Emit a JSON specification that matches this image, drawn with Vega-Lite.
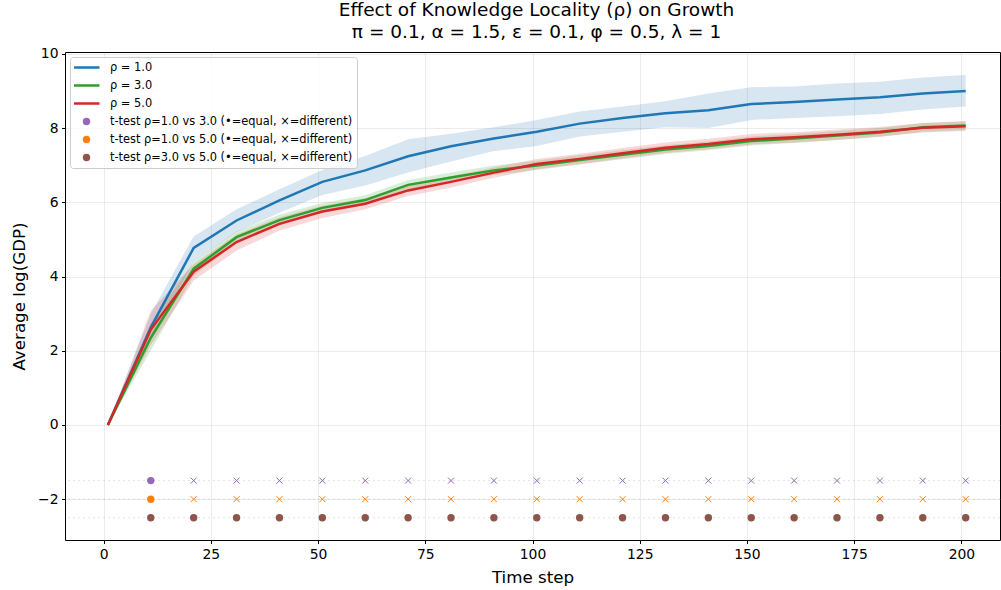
{
  "$schema": "https://vega.github.io/schema/vega-lite/v6.json",
  "autosize": {"type": "none"},
  "padding": {"left": 65, "top": 52, "right": 1, "bottom": 50},
  "width": 935,
  "height": 488,
  "background": "white",
  "title": {
    "text": ["Effect of Knowledge Locality (ρ) on Growth", "π = 0.1,  α = 1.5,  ε = 0.1,  φ = 0.5,  λ = 1"],
    "font": "DejaVu Sans", "fontSize": 18.5, "fontWeight": "normal", "lineHeight": 22,
    "offset": 5, "anchor": "middle", "color": "#000", "dx": 4
  },
  "config": {
    "font": "DejaVu Sans",
    "view": {"stroke": "#000", "strokeWidth": 1},
    "axis": {
      "domain": false, "grid": true, "gridColor": "#b0b0b0", "gridOpacity": 0.3, "gridWidth": 0.8,
      "tickColor": "#000", "tickSize": 3.5, "labelFont": "DejaVu Sans", "labelFontSize": 13.9, "labelColor": "#000",
      "titleFont": "DejaVu Sans", "titleFontSize": 16.7, "titleFontWeight": "normal", "titleColor": "#000", "labelPadding": 3.5
    },
    "legend": {
      "orient": "top-left", "offset": 5, "padding": 4, "strokeColor": "#cccccc", "fillColor": "rgba(255,255,255,0.8)",
      "cornerRadius": 3, "labelFont": "DejaVu Sans", "labelFontSize": 11.4, "labelColor": "#000", "labelLimit": 400,
      "symbolOffset": -2, "labelOffset": 9, "rowPadding": 5, "clipHeight": 13, "symbolOpacity": 1
    }
  },
  "datasets": {
    "lines": [
      {"t": 1, "series": "ρ = 1.0", "mean": 0, "lo": 0, "hi": 0},
      {"t": 11, "series": "ρ = 1.0", "mean": 2.63, "lo": 2.3, "hi": 3.0},
      {"t": 21, "series": "ρ = 1.0", "mean": 4.77, "lo": 4.4, "hi": 5.08},
      {"t": 31, "series": "ρ = 1.0", "mean": 5.51, "lo": 5.2, "hi": 5.81},
      {"t": 41, "series": "ρ = 1.0", "mean": 6.05, "lo": 5.72, "hi": 6.35},
      {"t": 51, "series": "ρ = 1.0", "mean": 6.55, "lo": 6.2, "hi": 6.87},
      {"t": 61, "series": "ρ = 1.0", "mean": 6.86, "lo": 6.45, "hi": 7.25},
      {"t": 71, "series": "ρ = 1.0", "mean": 7.24, "lo": 6.8, "hi": 7.7},
      {"t": 81, "series": "ρ = 1.0", "mean": 7.51, "lo": 7.1, "hi": 7.85},
      {"t": 91, "series": "ρ = 1.0", "mean": 7.72, "lo": 7.38, "hi": 8.02},
      {"t": 101, "series": "ρ = 1.0", "mean": 7.9, "lo": 7.52, "hi": 8.22},
      {"t": 111, "series": "ρ = 1.0", "mean": 8.12, "lo": 7.77, "hi": 8.45},
      {"t": 121, "series": "ρ = 1.0", "mean": 8.27, "lo": 7.9, "hi": 8.58},
      {"t": 131, "series": "ρ = 1.0", "mean": 8.4, "lo": 8.02, "hi": 8.72},
      {"t": 141, "series": "ρ = 1.0", "mean": 8.48, "lo": 8.0, "hi": 8.93},
      {"t": 151, "series": "ρ = 1.0", "mean": 8.65, "lo": 8.22, "hi": 9.1},
      {"t": 161, "series": "ρ = 1.0", "mean": 8.7, "lo": 8.27, "hi": 9.12},
      {"t": 171, "series": "ρ = 1.0", "mean": 8.77, "lo": 8.32, "hi": 9.2},
      {"t": 181, "series": "ρ = 1.0", "mean": 8.83, "lo": 8.38, "hi": 9.25},
      {"t": 191, "series": "ρ = 1.0", "mean": 8.93, "lo": 8.5, "hi": 9.36},
      {"t": 201, "series": "ρ = 1.0", "mean": 9.0, "lo": 8.58, "hi": 9.43},
      {"t": 1, "series": "ρ = 3.0", "mean": 0, "lo": 0, "hi": 0},
      {"t": 11, "series": "ρ = 3.0", "mean": 2.35, "lo": 2.0, "hi": 2.72},
      {"t": 21, "series": "ρ = 3.0", "mean": 4.21, "lo": 4.03, "hi": 4.4},
      {"t": 31, "series": "ρ = 3.0", "mean": 5.06, "lo": 4.9, "hi": 5.22},
      {"t": 41, "series": "ρ = 3.0", "mean": 5.52, "lo": 5.39, "hi": 5.67},
      {"t": 51, "series": "ρ = 3.0", "mean": 5.85, "lo": 5.72, "hi": 5.98},
      {"t": 61, "series": "ρ = 3.0", "mean": 6.06, "lo": 5.93, "hi": 6.19},
      {"t": 71, "series": "ρ = 3.0", "mean": 6.47, "lo": 6.35, "hi": 6.6},
      {"t": 81, "series": "ρ = 3.0", "mean": 6.67, "lo": 6.55, "hi": 6.8},
      {"t": 91, "series": "ρ = 3.0", "mean": 6.86, "lo": 6.74, "hi": 6.99},
      {"t": 101, "series": "ρ = 3.0", "mean": 6.99, "lo": 6.87, "hi": 7.12},
      {"t": 111, "series": "ρ = 3.0", "mean": 7.14, "lo": 7.02, "hi": 7.27},
      {"t": 121, "series": "ρ = 3.0", "mean": 7.28, "lo": 7.16, "hi": 7.4},
      {"t": 131, "series": "ρ = 3.0", "mean": 7.42, "lo": 7.3, "hi": 7.54},
      {"t": 141, "series": "ρ = 3.0", "mean": 7.52, "lo": 7.4, "hi": 7.64},
      {"t": 151, "series": "ρ = 3.0", "mean": 7.65, "lo": 7.53, "hi": 7.77},
      {"t": 161, "series": "ρ = 3.0", "mean": 7.72, "lo": 7.6, "hi": 7.84},
      {"t": 171, "series": "ρ = 3.0", "mean": 7.8, "lo": 7.68, "hi": 7.92},
      {"t": 181, "series": "ρ = 3.0", "mean": 7.88, "lo": 7.76, "hi": 8.0},
      {"t": 191, "series": "ρ = 3.0", "mean": 8.02, "lo": 7.9, "hi": 8.14},
      {"t": 201, "series": "ρ = 3.0", "mean": 8.07, "lo": 7.95, "hi": 8.19},
      {"t": 1, "series": "ρ = 5.0", "mean": 0, "lo": 0, "hi": 0},
      {"t": 11, "series": "ρ = 5.0", "mean": 2.57, "lo": 2.15, "hi": 3.08},
      {"t": 21, "series": "ρ = 5.0", "mean": 4.13, "lo": 3.89, "hi": 4.33},
      {"t": 31, "series": "ρ = 5.0", "mean": 4.93, "lo": 4.7, "hi": 5.13},
      {"t": 41, "series": "ρ = 5.0", "mean": 5.42, "lo": 5.24, "hi": 5.6},
      {"t": 51, "series": "ρ = 5.0", "mean": 5.75, "lo": 5.58, "hi": 5.91},
      {"t": 61, "series": "ρ = 5.0", "mean": 5.96, "lo": 5.81, "hi": 6.11},
      {"t": 71, "series": "ρ = 5.0", "mean": 6.32, "lo": 6.17, "hi": 6.47},
      {"t": 81, "series": "ρ = 5.0", "mean": 6.55, "lo": 6.4, "hi": 6.7},
      {"t": 91, "series": "ρ = 5.0", "mean": 6.8, "lo": 6.66, "hi": 6.94},
      {"t": 101, "series": "ρ = 5.0", "mean": 7.03, "lo": 6.89, "hi": 7.17},
      {"t": 111, "series": "ρ = 5.0", "mean": 7.17, "lo": 7.03, "hi": 7.31},
      {"t": 121, "series": "ρ = 5.0", "mean": 7.32, "lo": 7.18, "hi": 7.46},
      {"t": 131, "series": "ρ = 5.0", "mean": 7.47, "lo": 7.33, "hi": 7.61},
      {"t": 141, "series": "ρ = 5.0", "mean": 7.57, "lo": 7.43, "hi": 7.71},
      {"t": 151, "series": "ρ = 5.0", "mean": 7.7, "lo": 7.56, "hi": 7.84},
      {"t": 161, "series": "ρ = 5.0", "mean": 7.75, "lo": 7.61, "hi": 7.89},
      {"t": 171, "series": "ρ = 5.0", "mean": 7.82, "lo": 7.68, "hi": 7.96},
      {"t": 181, "series": "ρ = 5.0", "mean": 7.9, "lo": 7.77, "hi": 8.03},
      {"t": 191, "series": "ρ = 5.0", "mean": 8.01, "lo": 7.88, "hi": 8.14},
      {"t": 201, "series": "ρ = 5.0", "mean": 8.05, "lo": 7.92, "hi": 8.18}
    ],
    "tt": [
      {"t": 11, "series": "t-test ρ=1.0 vs 3.0 (•=equal, ×=different)", "y": -1.5, "r": "equal"},
      {"t": 21, "series": "t-test ρ=1.0 vs 3.0 (•=equal, ×=different)", "y": -1.5, "r": "different"},
      {"t": 31, "series": "t-test ρ=1.0 vs 3.0 (•=equal, ×=different)", "y": -1.5, "r": "different"},
      {"t": 41, "series": "t-test ρ=1.0 vs 3.0 (•=equal, ×=different)", "y": -1.5, "r": "different"},
      {"t": 51, "series": "t-test ρ=1.0 vs 3.0 (•=equal, ×=different)", "y": -1.5, "r": "different"},
      {"t": 61, "series": "t-test ρ=1.0 vs 3.0 (•=equal, ×=different)", "y": -1.5, "r": "different"},
      {"t": 71, "series": "t-test ρ=1.0 vs 3.0 (•=equal, ×=different)", "y": -1.5, "r": "different"},
      {"t": 81, "series": "t-test ρ=1.0 vs 3.0 (•=equal, ×=different)", "y": -1.5, "r": "different"},
      {"t": 91, "series": "t-test ρ=1.0 vs 3.0 (•=equal, ×=different)", "y": -1.5, "r": "different"},
      {"t": 101, "series": "t-test ρ=1.0 vs 3.0 (•=equal, ×=different)", "y": -1.5, "r": "different"},
      {"t": 111, "series": "t-test ρ=1.0 vs 3.0 (•=equal, ×=different)", "y": -1.5, "r": "different"},
      {"t": 121, "series": "t-test ρ=1.0 vs 3.0 (•=equal, ×=different)", "y": -1.5, "r": "different"},
      {"t": 131, "series": "t-test ρ=1.0 vs 3.0 (•=equal, ×=different)", "y": -1.5, "r": "different"},
      {"t": 141, "series": "t-test ρ=1.0 vs 3.0 (•=equal, ×=different)", "y": -1.5, "r": "different"},
      {"t": 151, "series": "t-test ρ=1.0 vs 3.0 (•=equal, ×=different)", "y": -1.5, "r": "different"},
      {"t": 161, "series": "t-test ρ=1.0 vs 3.0 (•=equal, ×=different)", "y": -1.5, "r": "different"},
      {"t": 171, "series": "t-test ρ=1.0 vs 3.0 (•=equal, ×=different)", "y": -1.5, "r": "different"},
      {"t": 181, "series": "t-test ρ=1.0 vs 3.0 (•=equal, ×=different)", "y": -1.5, "r": "different"},
      {"t": 191, "series": "t-test ρ=1.0 vs 3.0 (•=equal, ×=different)", "y": -1.5, "r": "different"},
      {"t": 201, "series": "t-test ρ=1.0 vs 3.0 (•=equal, ×=different)", "y": -1.5, "r": "different"},
      {"t": 11, "series": "t-test ρ=1.0 vs 5.0 (•=equal, ×=different)", "y": -2, "r": "equal"},
      {"t": 21, "series": "t-test ρ=1.0 vs 5.0 (•=equal, ×=different)", "y": -2, "r": "different"},
      {"t": 31, "series": "t-test ρ=1.0 vs 5.0 (•=equal, ×=different)", "y": -2, "r": "different"},
      {"t": 41, "series": "t-test ρ=1.0 vs 5.0 (•=equal, ×=different)", "y": -2, "r": "different"},
      {"t": 51, "series": "t-test ρ=1.0 vs 5.0 (•=equal, ×=different)", "y": -2, "r": "different"},
      {"t": 61, "series": "t-test ρ=1.0 vs 5.0 (•=equal, ×=different)", "y": -2, "r": "different"},
      {"t": 71, "series": "t-test ρ=1.0 vs 5.0 (•=equal, ×=different)", "y": -2, "r": "different"},
      {"t": 81, "series": "t-test ρ=1.0 vs 5.0 (•=equal, ×=different)", "y": -2, "r": "different"},
      {"t": 91, "series": "t-test ρ=1.0 vs 5.0 (•=equal, ×=different)", "y": -2, "r": "different"},
      {"t": 101, "series": "t-test ρ=1.0 vs 5.0 (•=equal, ×=different)", "y": -2, "r": "different"},
      {"t": 111, "series": "t-test ρ=1.0 vs 5.0 (•=equal, ×=different)", "y": -2, "r": "different"},
      {"t": 121, "series": "t-test ρ=1.0 vs 5.0 (•=equal, ×=different)", "y": -2, "r": "different"},
      {"t": 131, "series": "t-test ρ=1.0 vs 5.0 (•=equal, ×=different)", "y": -2, "r": "different"},
      {"t": 141, "series": "t-test ρ=1.0 vs 5.0 (•=equal, ×=different)", "y": -2, "r": "different"},
      {"t": 151, "series": "t-test ρ=1.0 vs 5.0 (•=equal, ×=different)", "y": -2, "r": "different"},
      {"t": 161, "series": "t-test ρ=1.0 vs 5.0 (•=equal, ×=different)", "y": -2, "r": "different"},
      {"t": 171, "series": "t-test ρ=1.0 vs 5.0 (•=equal, ×=different)", "y": -2, "r": "different"},
      {"t": 181, "series": "t-test ρ=1.0 vs 5.0 (•=equal, ×=different)", "y": -2, "r": "different"},
      {"t": 191, "series": "t-test ρ=1.0 vs 5.0 (•=equal, ×=different)", "y": -2, "r": "different"},
      {"t": 201, "series": "t-test ρ=1.0 vs 5.0 (•=equal, ×=different)", "y": -2, "r": "different"},
      {"t": 11, "series": "t-test ρ=3.0 vs 5.0 (•=equal, ×=different)", "y": -2.5, "r": "equal"},
      {"t": 21, "series": "t-test ρ=3.0 vs 5.0 (•=equal, ×=different)", "y": -2.5, "r": "equal"},
      {"t": 31, "series": "t-test ρ=3.0 vs 5.0 (•=equal, ×=different)", "y": -2.5, "r": "equal"},
      {"t": 41, "series": "t-test ρ=3.0 vs 5.0 (•=equal, ×=different)", "y": -2.5, "r": "equal"},
      {"t": 51, "series": "t-test ρ=3.0 vs 5.0 (•=equal, ×=different)", "y": -2.5, "r": "equal"},
      {"t": 61, "series": "t-test ρ=3.0 vs 5.0 (•=equal, ×=different)", "y": -2.5, "r": "equal"},
      {"t": 71, "series": "t-test ρ=3.0 vs 5.0 (•=equal, ×=different)", "y": -2.5, "r": "equal"},
      {"t": 81, "series": "t-test ρ=3.0 vs 5.0 (•=equal, ×=different)", "y": -2.5, "r": "equal"},
      {"t": 91, "series": "t-test ρ=3.0 vs 5.0 (•=equal, ×=different)", "y": -2.5, "r": "equal"},
      {"t": 101, "series": "t-test ρ=3.0 vs 5.0 (•=equal, ×=different)", "y": -2.5, "r": "equal"},
      {"t": 111, "series": "t-test ρ=3.0 vs 5.0 (•=equal, ×=different)", "y": -2.5, "r": "equal"},
      {"t": 121, "series": "t-test ρ=3.0 vs 5.0 (•=equal, ×=different)", "y": -2.5, "r": "equal"},
      {"t": 131, "series": "t-test ρ=3.0 vs 5.0 (•=equal, ×=different)", "y": -2.5, "r": "equal"},
      {"t": 141, "series": "t-test ρ=3.0 vs 5.0 (•=equal, ×=different)", "y": -2.5, "r": "equal"},
      {"t": 151, "series": "t-test ρ=3.0 vs 5.0 (•=equal, ×=different)", "y": -2.5, "r": "equal"},
      {"t": 161, "series": "t-test ρ=3.0 vs 5.0 (•=equal, ×=different)", "y": -2.5, "r": "equal"},
      {"t": 171, "series": "t-test ρ=3.0 vs 5.0 (•=equal, ×=different)", "y": -2.5, "r": "equal"},
      {"t": 181, "series": "t-test ρ=3.0 vs 5.0 (•=equal, ×=different)", "y": -2.5, "r": "equal"},
      {"t": 191, "series": "t-test ρ=3.0 vs 5.0 (•=equal, ×=different)", "y": -2.5, "r": "equal"},
      {"t": 201, "series": "t-test ρ=3.0 vs 5.0 (•=equal, ×=different)", "y": -2.5, "r": "equal"}
    ],
    "guides": [{"y": -1.5}, {"y": -2}, {"y": -2.5}]
  },
  "encoding": {
    "x": {"field": "t", "type": "quantitative", "scale": {"domain": [-9, 209], "nice": false, "zero": false},
          "axis": {"title": "Time step", "values": [0, 25, 50, 75, 100, 125, 150, 175, 200], "titlePadding": 9}}
  },
  "layer": [
    {
      "data": {"name": "guides"},
      "mark": {"type": "rule", "color": "#999999", "strokeDash": [2, 3], "opacity": 0.35, "strokeWidth": 0.8},
      "encoding": {"x": null, "y": {"field": "y", "type": "quantitative"}}
    },
    {
      "data": {"name": "lines"},
      "mark": {"type": "area", "opacity": 0.18},
      "encoding": {
        "y": {"field": "lo", "type": "quantitative"},
        "y2": {"field": "hi"},
        "fill": {"field": "series", "type": "nominal",
                 "scale": {"domain": ["ρ = 1.0", "ρ = 3.0", "ρ = 5.0"], "range": ["#1f77b4", "#2ca02c", "#d62728"]},
                 "legend": null}
      }
    },
    {
      "data": {"name": "lines"},
      "mark": {"type": "line", "strokeWidth": 2.5},
      "encoding": {
        "y": {"field": "mean", "type": "quantitative",
              "scale": {"domain": [-3.1, 10.05], "nice": false, "zero": false},
              "axis": {"title": "Average log(GDP)", "values": [-2, 0, 2, 4, 6, 8, 10], "titlePadding": 9}},
        "color": {
          "field": "series", "type": "nominal",
          "scale": {
            "domain": ["ρ = 1.0", "ρ = 3.0", "ρ = 5.0", "t-test ρ=1.0 vs 3.0 (•=equal, ×=different)", "t-test ρ=1.0 vs 5.0 (•=equal, ×=different)", "t-test ρ=3.0 vs 5.0 (•=equal, ×=different)"],
            "range": ["#1f77b4", "#2ca02c", "#d62728", "#9467bd", "#ff7f0e", "#8c564b"]
          },
          "legend": {"title": null}
        },
        "order": {"field": "t", "type": "quantitative"}
      }
    },
    {
      "data": {"name": "tt"},
      "transform": [{"filter": "datum.r === 'equal'"}],
      "mark": {"type": "point", "filled": true, "opacity": 1},
      "encoding": {
        "y": {"field": "y", "type": "quantitative"},
        "color": {"field": "series", "type": "nominal", "legend": {"title": null}},
        "shape": {"field": "series", "type": "nominal", "legend": {"title": null},
                  "scale": {"domain": ["ρ = 1.0", "ρ = 3.0", "ρ = 5.0", "t-test ρ=1.0 vs 3.0 (•=equal, ×=different)", "t-test ρ=1.0 vs 5.0 (•=equal, ×=different)", "t-test ρ=3.0 vs 5.0 (•=equal, ×=different)"],
                            "range": ["stroke", "stroke", "stroke", "circle", "circle", "circle"]}},
        "size": {"field": "series", "type": "nominal", "legend": {"title": null},
                 "scale": {"type": "ordinal",
                           "domain": ["ρ = 1.0", "ρ = 3.0", "ρ = 5.0", "t-test ρ=1.0 vs 3.0 (•=equal, ×=different)", "t-test ρ=1.0 vs 5.0 (•=equal, ×=different)", "t-test ρ=3.0 vs 5.0 (•=equal, ×=different)"],
                           "range": [676, 676, 676, 55, 55, 55]}},
        "strokeWidth": {"field": "series", "type": "nominal", "legend": {"title": null},
                        "scale": {"type": "ordinal",
                                  "domain": ["ρ = 1.0", "ρ = 3.0", "ρ = 5.0", "t-test ρ=1.0 vs 3.0 (•=equal, ×=different)", "t-test ρ=1.0 vs 5.0 (•=equal, ×=different)", "t-test ρ=3.0 vs 5.0 (•=equal, ×=different)"],
                                  "range": [2.5, 2.5, 2.5, 0, 0, 0]}}
      }
    },
    {
      "data": {"name": "tt"},
      "transform": [{"filter": "datum.r === 'different'"}],
      "mark": {"type": "point", "shape": "M-1,-1L1,1M1,-1L-1,1", "filled": false, "size": 36, "strokeWidth": 1, "opacity": 1},
      "encoding": {
        "y": {"field": "y", "type": "quantitative"},
        "stroke": {"field": "series", "type": "nominal",
                   "scale": {"domain": ["t-test ρ=1.0 vs 3.0 (•=equal, ×=different)", "t-test ρ=1.0 vs 5.0 (•=equal, ×=different)", "t-test ρ=3.0 vs 5.0 (•=equal, ×=different)"],
                             "range": ["#9467bd", "#ff7f0e", "#8c564b"]},
                   "legend": null}
      }
    }
  ]
}
